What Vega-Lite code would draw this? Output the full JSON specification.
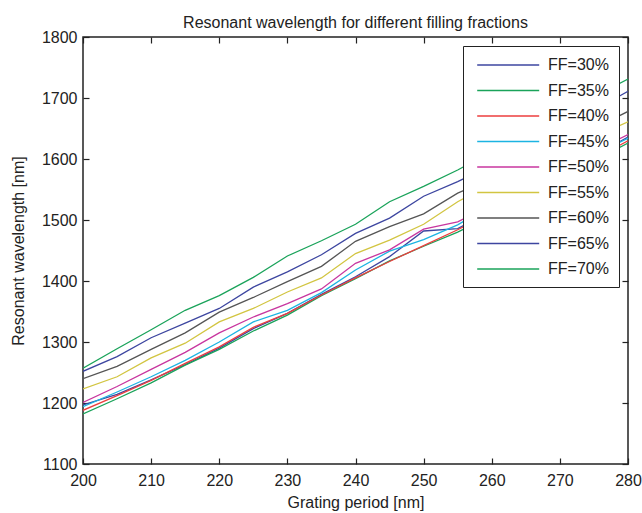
{
  "$schema": "https://vega.github.io/schema/vega-lite/v6.json",
  "autosize": "none",
  "width": 545,
  "height": 427,
  "padding": {"left": 83, "top": 37, "right": 14, "bottom": 49},
  "background": "white",
  "title": {"text": "Resonant wavelength for different filling fractions", "frame": "group", "anchor": "middle", "fontSize": 16, "fontWeight": "normal", "font": "Liberation Sans", "color": "#222222", "offset": -2},
  "config": {
    "view": {"stroke": "#222222", "strokeWidth": 1.5},
    "font": "Liberation Sans",
    "axis": {"grid": false, "domain": false, "tickSize": -6, "tickColor": "#222222", "tickWidth": 1.2, "labelFlush": false, "labelFont": "Liberation Sans", "labelFontSize": 16, "labelColor": "#222222", "titleFont": "Liberation Sans", "titleFontSize": 16, "titleFontWeight": "normal", "titleColor": "#222222"}
  },
  "data": {"values": [
    {"ff": "FF=30%", "p": 200, "w": 1197}, {"ff": "FF=30%", "p": 205, "w": 1214}, {"ff": "FF=30%", "p": 210, "w": 1238}, {"ff": "FF=30%", "p": 215, "w": 1263}, {"ff": "FF=30%", "p": 220, "w": 1290}, {"ff": "FF=30%", "p": 225, "w": 1322}, {"ff": "FF=30%", "p": 230, "w": 1347}, {"ff": "FF=30%", "p": 235, "w": 1378}, {"ff": "FF=30%", "p": 240, "w": 1407}, {"ff": "FF=30%", "p": 245, "w": 1440}, {"ff": "FF=30%", "p": 250, "w": 1482}, {"ff": "FF=30%", "p": 255, "w": 1486}, {"ff": "FF=30%", "p": 260, "w": 1515}, {"ff": "FF=30%", "p": 265, "w": 1545}, {"ff": "FF=30%", "p": 270, "w": 1575}, {"ff": "FF=30%", "p": 275, "w": 1605}, {"ff": "FF=30%", "p": 280, "w": 1636},
    {"ff": "FF=35%", "p": 200, "w": 1182}, {"ff": "FF=35%", "p": 205, "w": 1207}, {"ff": "FF=35%", "p": 210, "w": 1233}, {"ff": "FF=35%", "p": 215, "w": 1262}, {"ff": "FF=35%", "p": 220, "w": 1288}, {"ff": "FF=35%", "p": 225, "w": 1318}, {"ff": "FF=35%", "p": 230, "w": 1344}, {"ff": "FF=35%", "p": 235, "w": 1376}, {"ff": "FF=35%", "p": 240, "w": 1404}, {"ff": "FF=35%", "p": 245, "w": 1433}, {"ff": "FF=35%", "p": 250, "w": 1457}, {"ff": "FF=35%", "p": 255, "w": 1480}, {"ff": "FF=35%", "p": 260, "w": 1508}, {"ff": "FF=35%", "p": 265, "w": 1538}, {"ff": "FF=35%", "p": 270, "w": 1568}, {"ff": "FF=35%", "p": 275, "w": 1597}, {"ff": "FF=35%", "p": 280, "w": 1626},
    {"ff": "FF=40%", "p": 200, "w": 1188}, {"ff": "FF=40%", "p": 205, "w": 1212}, {"ff": "FF=40%", "p": 210, "w": 1237}, {"ff": "FF=40%", "p": 215, "w": 1265}, {"ff": "FF=40%", "p": 220, "w": 1292}, {"ff": "FF=40%", "p": 225, "w": 1324}, {"ff": "FF=40%", "p": 230, "w": 1347}, {"ff": "FF=40%", "p": 235, "w": 1377}, {"ff": "FF=40%", "p": 240, "w": 1405}, {"ff": "FF=40%", "p": 245, "w": 1432}, {"ff": "FF=40%", "p": 250, "w": 1458}, {"ff": "FF=40%", "p": 255, "w": 1484}, {"ff": "FF=40%", "p": 260, "w": 1512}, {"ff": "FF=40%", "p": 265, "w": 1542}, {"ff": "FF=40%", "p": 270, "w": 1572}, {"ff": "FF=40%", "p": 275, "w": 1600}, {"ff": "FF=40%", "p": 280, "w": 1630},
    {"ff": "FF=45%", "p": 200, "w": 1194}, {"ff": "FF=45%", "p": 205, "w": 1218}, {"ff": "FF=45%", "p": 210, "w": 1243}, {"ff": "FF=45%", "p": 215, "w": 1270}, {"ff": "FF=45%", "p": 220, "w": 1300}, {"ff": "FF=45%", "p": 225, "w": 1333}, {"ff": "FF=45%", "p": 230, "w": 1352}, {"ff": "FF=45%", "p": 235, "w": 1381}, {"ff": "FF=45%", "p": 240, "w": 1418}, {"ff": "FF=45%", "p": 245, "w": 1449}, {"ff": "FF=45%", "p": 250, "w": 1468}, {"ff": "FF=45%", "p": 255, "w": 1492}, {"ff": "FF=45%", "p": 260, "w": 1525}, {"ff": "FF=45%", "p": 265, "w": 1552}, {"ff": "FF=45%", "p": 270, "w": 1580}, {"ff": "FF=45%", "p": 275, "w": 1607}, {"ff": "FF=45%", "p": 280, "w": 1634},
    {"ff": "FF=50%", "p": 200, "w": 1201}, {"ff": "FF=50%", "p": 205, "w": 1227}, {"ff": "FF=50%", "p": 210, "w": 1255}, {"ff": "FF=50%", "p": 215, "w": 1283}, {"ff": "FF=50%", "p": 220, "w": 1315}, {"ff": "FF=50%", "p": 225, "w": 1341}, {"ff": "FF=50%", "p": 230, "w": 1363}, {"ff": "FF=50%", "p": 235, "w": 1387}, {"ff": "FF=50%", "p": 240, "w": 1429}, {"ff": "FF=50%", "p": 245, "w": 1451}, {"ff": "FF=50%", "p": 250, "w": 1485}, {"ff": "FF=50%", "p": 255, "w": 1497}, {"ff": "FF=50%", "p": 260, "w": 1525}, {"ff": "FF=50%", "p": 265, "w": 1555}, {"ff": "FF=50%", "p": 270, "w": 1585}, {"ff": "FF=50%", "p": 275, "w": 1612}, {"ff": "FF=50%", "p": 280, "w": 1640},
    {"ff": "FF=55%", "p": 200, "w": 1223}, {"ff": "FF=55%", "p": 205, "w": 1243}, {"ff": "FF=55%", "p": 210, "w": 1274}, {"ff": "FF=55%", "p": 215, "w": 1298}, {"ff": "FF=55%", "p": 220, "w": 1333}, {"ff": "FF=55%", "p": 225, "w": 1355}, {"ff": "FF=55%", "p": 230, "w": 1382}, {"ff": "FF=55%", "p": 235, "w": 1405}, {"ff": "FF=55%", "p": 240, "w": 1445}, {"ff": "FF=55%", "p": 245, "w": 1467}, {"ff": "FF=55%", "p": 250, "w": 1493}, {"ff": "FF=55%", "p": 255, "w": 1530}, {"ff": "FF=55%", "p": 260, "w": 1560}, {"ff": "FF=55%", "p": 265, "w": 1585}, {"ff": "FF=55%", "p": 270, "w": 1610}, {"ff": "FF=55%", "p": 275, "w": 1636}, {"ff": "FF=55%", "p": 280, "w": 1661},
    {"ff": "FF=60%", "p": 200, "w": 1240}, {"ff": "FF=60%", "p": 205, "w": 1260}, {"ff": "FF=60%", "p": 210, "w": 1288}, {"ff": "FF=60%", "p": 215, "w": 1315}, {"ff": "FF=60%", "p": 220, "w": 1349}, {"ff": "FF=60%", "p": 225, "w": 1373}, {"ff": "FF=60%", "p": 230, "w": 1399}, {"ff": "FF=60%", "p": 235, "w": 1424}, {"ff": "FF=60%", "p": 240, "w": 1465}, {"ff": "FF=60%", "p": 245, "w": 1489}, {"ff": "FF=60%", "p": 250, "w": 1510}, {"ff": "FF=60%", "p": 255, "w": 1544}, {"ff": "FF=60%", "p": 260, "w": 1568}, {"ff": "FF=60%", "p": 265, "w": 1595}, {"ff": "FF=60%", "p": 270, "w": 1622}, {"ff": "FF=60%", "p": 275, "w": 1650}, {"ff": "FF=60%", "p": 280, "w": 1678},
    {"ff": "FF=65%", "p": 200, "w": 1252}, {"ff": "FF=65%", "p": 205, "w": 1276}, {"ff": "FF=65%", "p": 210, "w": 1307}, {"ff": "FF=65%", "p": 215, "w": 1331}, {"ff": "FF=65%", "p": 220, "w": 1355}, {"ff": "FF=65%", "p": 225, "w": 1390}, {"ff": "FF=65%", "p": 230, "w": 1415}, {"ff": "FF=65%", "p": 235, "w": 1443}, {"ff": "FF=65%", "p": 240, "w": 1478}, {"ff": "FF=65%", "p": 245, "w": 1503}, {"ff": "FF=65%", "p": 250, "w": 1539}, {"ff": "FF=65%", "p": 255, "w": 1563}, {"ff": "FF=65%", "p": 260, "w": 1590}, {"ff": "FF=65%", "p": 265, "w": 1620}, {"ff": "FF=65%", "p": 270, "w": 1650}, {"ff": "FF=65%", "p": 275, "w": 1680}, {"ff": "FF=65%", "p": 280, "w": 1711},
    {"ff": "FF=70%", "p": 200, "w": 1257}, {"ff": "FF=70%", "p": 205, "w": 1289}, {"ff": "FF=70%", "p": 210, "w": 1320}, {"ff": "FF=70%", "p": 215, "w": 1352}, {"ff": "FF=70%", "p": 220, "w": 1376}, {"ff": "FF=70%", "p": 225, "w": 1406}, {"ff": "FF=70%", "p": 230, "w": 1441}, {"ff": "FF=70%", "p": 235, "w": 1466}, {"ff": "FF=70%", "p": 240, "w": 1493}, {"ff": "FF=70%", "p": 245, "w": 1530}, {"ff": "FF=70%", "p": 250, "w": 1555}, {"ff": "FF=70%", "p": 255, "w": 1582}, {"ff": "FF=70%", "p": 260, "w": 1612}, {"ff": "FF=70%", "p": 265, "w": 1642}, {"ff": "FF=70%", "p": 270, "w": 1672}, {"ff": "FF=70%", "p": 275, "w": 1702}, {"ff": "FF=70%", "p": 280, "w": 1731}
  ]},
  "layer": [
    {
      "mark": {"type": "line", "strokeWidth": 1.3, "clip": true},
      "encoding": {
        "x": {"field": "p", "type": "quantitative", "scale": {"domain": [200, 280], "nice": false, "zero": false}, "axis": {"orient": "bottom", "values": [200, 210, 220, 230, 240, 250, 260, 270, 280], "format": "d", "labelPadding": 14, "title": "Grating period [nm]", "titlePadding": 6}},
        "y": {"field": "w", "type": "quantitative", "scale": {"domain": [1100, 1800], "nice": false, "zero": false}, "axis": {"orient": "left", "values": [1100, 1200, 1300, 1400, 1500, 1600, 1700, 1800], "format": "d", "labelPadding": 12, "title": "Resonant wavelength [nm]", "titlePadding": 15}},
        "color": {"field": "ff", "type": "nominal", "scale": {"domain": ["FF=30%", "FF=35%", "FF=40%", "FF=45%", "FF=50%", "FF=55%", "FF=60%", "FF=65%", "FF=70%"], "range": ["#3d46a0", "#1aa35a", "#ec3e3e", "#1cb4e2", "#c8369f", "#d2c541", "#555555", "#3d46a0", "#1aa35a"]},
          "legend": {"title": null, "orient": "top-right", "offset": 9, "fillColor": "white", "strokeColor": "#222222", "padding": 10, "symbolType": "M-0.6,0H7.15", "symbolSize": 256, "symbolStrokeWidth": 1.5, "labelFontSize": 16, "labelFont": "Liberation Sans", "labelColor": "#222222", "rowPadding": 8.5, "labelOffset": 57}}
      }
    },
    {
      "mark": {"type": "line", "opacity": 0},
      "encoding": {
        "x": {"field": "p", "type": "quantitative", "axis": {"orient": "top", "values": [200, 210, 220, 230, 240, 250, 260, 270, 280], "labels": false, "title": null}},
        "y": {"field": "w", "type": "quantitative", "axis": {"orient": "right", "values": [1100, 1200, 1300, 1400, 1500, 1600, 1700, 1800], "labels": false, "title": null}},
        "detail": {"field": "ff"}
      }
    }
  ],
  "resolve": {"axis": {"x": "independent", "y": "independent"}}
}
